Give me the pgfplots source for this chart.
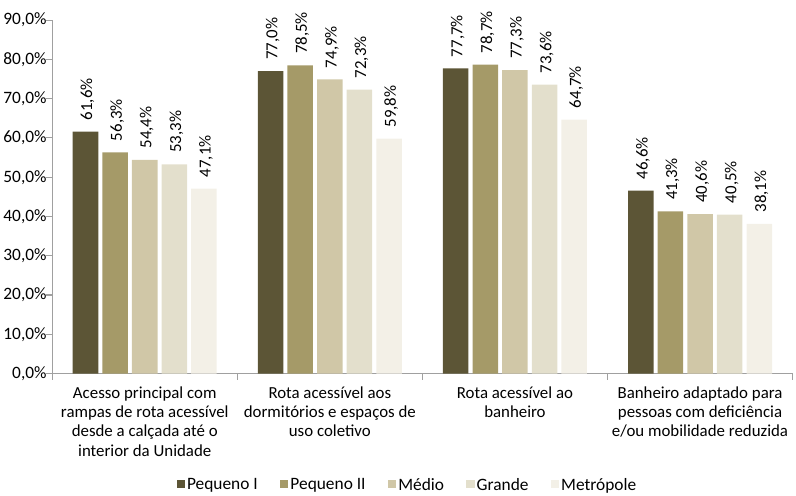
\documentclass[border=0pt]{standalone}
\usepackage{fontspec}
\setmainfont{Carlito}
\usepackage{pgfplots}
\pgfplotsset{compat=1.18}
\definecolor{cA}{HTML}{5C5536}
\definecolor{cB}{HTML}{A59A68}
\definecolor{cC}{HTML}{D0C7A7}
\definecolor{cD}{HTML}{E3DFCC}
\definecolor{cE}{HTML}{F3F0E7}
\definecolor{axisgray}{HTML}{A0A0A0}
\newcommand\f{\fontsize{17}{19}\selectfont}
\newcommand\fx{\fontsize{16.5}{19}\selectfont}
\newcommand\fv{\fontsize{16.5}{19}\selectfont}
\begin{document}
\begin{tikzpicture}
\begin{axis}[
    scale only axis,
    width=725pt, height=346pt,
    ybar=4pt, bar width=25pt,
    ymin=0, ymax=90,
    ytick={0,10,...,90},
    xmin=-0.5, xmax=3.5,
    axis x line*=bottom, axis y line*=left,
    axis line style={draw=axisgray, line width=1.2pt},
    tick style={draw=axisgray, line width=1pt},
    tick align=outside,
    major tick length=6pt,
    xtick={-0.5,0.5,1.5,2.5,3.5},
    xticklabels={},
    extra x ticks={0,1,2,3},
    extra x tick labels={
        {Acesso principal com\\rampas de rota acessível\\desde a calçada até o\\interior da Unidade},
        {Rota acessível aos\\dormitórios e espaços de\\uso coletivo},
        {Rota acessível ao\\banheiro},
        {Banheiro adaptado para\\pessoas com deficiência\\e/ou mobilidade reduzida}},
    extra x tick style={major tick length=0pt,
        tick label style={align=center, font=\fx, yshift=-9pt}},
    yticklabel={\pgfmathprintnumber[fixed,fixed zerofill,precision=1,use comma]{\tick}\%},
    /pgf/number format/assume math mode=true,
    y tick label style={font=\f, xshift=4pt},
    nodes near coords={\pgfmathprintnumber[fixed,fixed zerofill,precision=1,use comma]{\pgfplotspointmeta}\%},
    every node near coord/.append style={rotate=90, anchor=west, font=\fv, inner xsep=11pt, yshift=-2pt},
    legend columns=5,
    legend style={draw=none, font=\f, at={(axis description cs:0.48,-0.315)}, anchor=center,
        /tikz/every even column/.append style={column sep=20pt}},
    legend image code/.code={\fill[#1] (0pt,-3pt) rectangle (8pt,5pt);},
]
\addplot[fill=cA, draw=none] coordinates {(0,61.6) (1,77.0) (2,77.7) (3,46.6)};
\addplot[fill=cB, draw=none] coordinates {(0,56.3) (1,78.5) (2,78.7) (3,41.3)};
\addplot[fill=cC, draw=none] coordinates {(0,54.4) (1,74.9) (2,77.3) (3,40.6)};
\addplot[fill=cD, draw=none] coordinates {(0,53.3) (1,72.3) (2,73.6) (3,40.5)};
\addplot[fill=cE, draw=none] coordinates {(0,47.1) (1,59.8) (2,64.7) (3,38.1)};
\legend{Pequeno I, Pequeno II, Médio, Grande, Metrópole}
\end{axis}
\end{tikzpicture}
\end{document}
